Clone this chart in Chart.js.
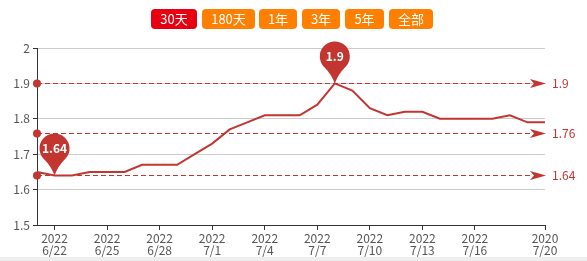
<!DOCTYPE html>
<html>
<head>
<meta charset="utf-8">
<script src="https://cdn.jsdelivr.net/npm/chart.js@4"></script>
<style>
  html, body { margin: 0; padding: 0; background: #fff; }
  #wrap { position: relative; width: 587px; height: 261px; overflow: hidden; font-family: "Noto Sans CJK SC", "Noto Sans", sans-serif; }
  #strip { position: absolute; left: 0; top: 257px; width: 587px; height: 4px; background: #eeeeee; }
  canvas { position: absolute; left: 0; top: 0; }
  .btn { position: absolute; top: 9px; height: 20px; line-height: 20px; color: #fff; font-size: 13px; text-align: center; border-radius: 4px; background: #ff8000; }
  .btn.on { background: #e60012; }
</style>
</head>
<body>
<div id="wrap">
  <div id="strip"></div>
  <canvas id="c" width="587" height="261"></canvas>
  <div id="btns"></div>
</div>
<script>
// ---- data ----
const categories = ['6/21','6/22','6/23','6/24','6/25','6/26','6/27','6/28','6/29','6/30',
                    '7/1','7/2','7/3','7/4','7/5','7/6','7/7','7/8','7/9','7/10',
                    '7/11','7/12','7/13','7/14','7/15','7/16','7/17','7/18','7/19','7/20'];
const prices = [1.65,1.64,1.64,1.65,1.65,1.65,1.67,1.67,1.67,1.70,
                1.73,1.77,1.79,1.81,1.81,1.81,1.84,1.90,1.88,1.83,
                1.81,1.82,1.82,1.80,1.80,1.80,1.80,1.81,1.79,1.79];
const tickDates = ['6/22','6/25','6/28','7/1','7/4','7/7','7/10','7/13','7/16','7/20'];
const tickYears = ['2022','2022','2022','2022','2022','2022','2022','2022','2022','2020'];
const markValues = [1.9, 1.76, 1.64];
const markLabels = ['1.9', '1.76', '1.64'];
const yTicks = [1.5, 1.6, 1.7, 1.8, 1.9, 2];
const buttonLabels = ['30天','180天','1年','3年','5年','全部'];

// ---- buttons ----
const btnPos = [[151,46],[202,53],[259,38],[302,38],[345,39],[389,44]];
const btnBox = document.getElementById('btns');
buttonLabels.forEach((t, i) => {
  const d = document.createElement('div');
  d.className = 'btn' + (i === 0 ? ' on' : '');
  d.style.left = btnPos[i][0] + 'px';
  d.style.width = btnPos[i][1] + 'px';
  d.textContent = t;
  btnBox.appendChild(d);
});

const RED = '#c23531';
const FONT = '"Noto Sans CJK SC", "Noto Sans", sans-serif';

function drawPin(ctx, x, y, text) {
  const r = 15, d = 27;
  const cx = x, cy = y - d;
  const a = 0.72;
  ctx.save();
  ctx.fillStyle = RED;
  ctx.beginPath();
  ctx.moveTo(x, y);
  ctx.quadraticCurveTo(cx - r * 0.22, cy + r * 1.2, cx + r * Math.cos(Math.PI / 2 + a), cy + r * Math.sin(Math.PI / 2 + a));
  ctx.arc(cx, cy, r, Math.PI / 2 + a, Math.PI / 2 - a + 2 * Math.PI, false);
  ctx.quadraticCurveTo(cx + r * 0.22, cy + r * 1.2, x, y);
  ctx.closePath();
  ctx.fill();
  ctx.fillStyle = '#fff';
  ctx.font = 'bold 12px ' + FONT;
  ctx.textAlign = 'center';
  ctx.textBaseline = 'middle';
  ctx.fillText(text, cx, cy);
  ctx.restore();
}

const markPlugin = {
  id: 'marks',
  afterDatasetsDraw(chart) {
    const ctx = chart.ctx;
    const ys = chart.scales.y;
    const ca = chart.chartArea;
    ctx.save();
    markValues.forEach((v, i) => {
      const y = Math.round(ys.getPixelForValue(v)) + 0.5;
      ctx.strokeStyle = RED;
      ctx.lineWidth = 1;
      ctx.setLineDash([5, 3]);
      ctx.beginPath();
      ctx.moveTo(ca.left, y);
      ctx.lineTo(ca.right - 12, y);
      ctx.stroke();
      ctx.setLineDash([]);
      // arrow
      ctx.fillStyle = RED;
      ctx.beginPath();
      ctx.moveTo(ca.right + 1, y);
      ctx.lineTo(ca.right - 15, y - 4.5);
      ctx.lineTo(ca.right - 11, y);
      ctx.lineTo(ca.right - 15, y + 4.5);
      ctx.closePath();
      ctx.fill();
      // dot
      ctx.beginPath();
      ctx.arc(ca.left, y, 4, 0, Math.PI * 2);
      ctx.fill();
      // label
      ctx.font = '12px ' + FONT;
      ctx.textAlign = 'left';
      ctx.textBaseline = 'middle';
      ctx.fillText(markLabels[i], ca.right + 7, y);
    });
    ctx.restore();
    const meta = chart.getDatasetMeta(0);
    const maxV = Math.max(...prices), minV = Math.min(...prices);
    const iMax = prices.indexOf(maxV), iMin = prices.indexOf(minV);
    const pMin = meta.data[iMin], pMax = meta.data[iMax];
    drawPin(ctx, pMin.x, pMin.y, String(minV));
    drawPin(ctx, pMax.x, pMax.y, String(maxV));
  }
};

new Chart(document.getElementById('c'), {
  type: 'line',
  data: {
    labels: categories,
    datasets: [{
      data: prices,
      borderColor: RED,
      borderWidth: 2,
      pointRadius: 0,
      tension: 0,
      fill: false
    }]
  },
  options: {
    responsive: false,
    animation: false,
    devicePixelRatio: 1,
    layout: { padding: { top: 48, right: 42, left: 0, bottom: 0 } },
    plugins: { legend: { display: false }, tooltip: { enabled: false } },
    scales: {
      x: {
        type: 'category',
        offset: false,
        border: { color: '#333', width: 1 },
        grid: {
          drawOnChartArea: false,
          drawTicks: true,
          tickLength: 5,
          tickColor: (c) => {
            const lab = categories[c.index];
            return tickDates.includes(lab) ? '#333' : 'rgba(0,0,0,0)';
          }
        },
        ticks: {
          autoSkip: false,
          maxRotation: 0,
          padding: 2,
          color: '#555',
          font: { size: 12, family: FONT, lineHeight: 1.05 },
          callback: function (val, idx) {
            const lab = categories[idx];
            const k = tickDates.indexOf(lab);
            return k >= 0 ? [tickYears[k], tickDates[k]] : '';
          }
        },
        afterFit: (s) => { s.height = 36; }
      },
      y: {
        min: 1.5,
        max: 2,
        border: { color: '#333', width: 1 },
        grid: { color: '#cccccc', tickColor: '#333', tickLength: 4 },
        afterBuildTicks: (s) => { s.ticks = yTicks.map(v => ({ value: v })); },
        ticks: {
          padding: 3,
          color: '#555',
          font: { size: 12, family: FONT },
          callback: (v) => String(Math.round(v * 10) / 10)
        },
        afterFit: (s) => { s.width = 37; }
      }
    }
  },
  plugins: [markPlugin]
});
</script>
</body>
</html>
